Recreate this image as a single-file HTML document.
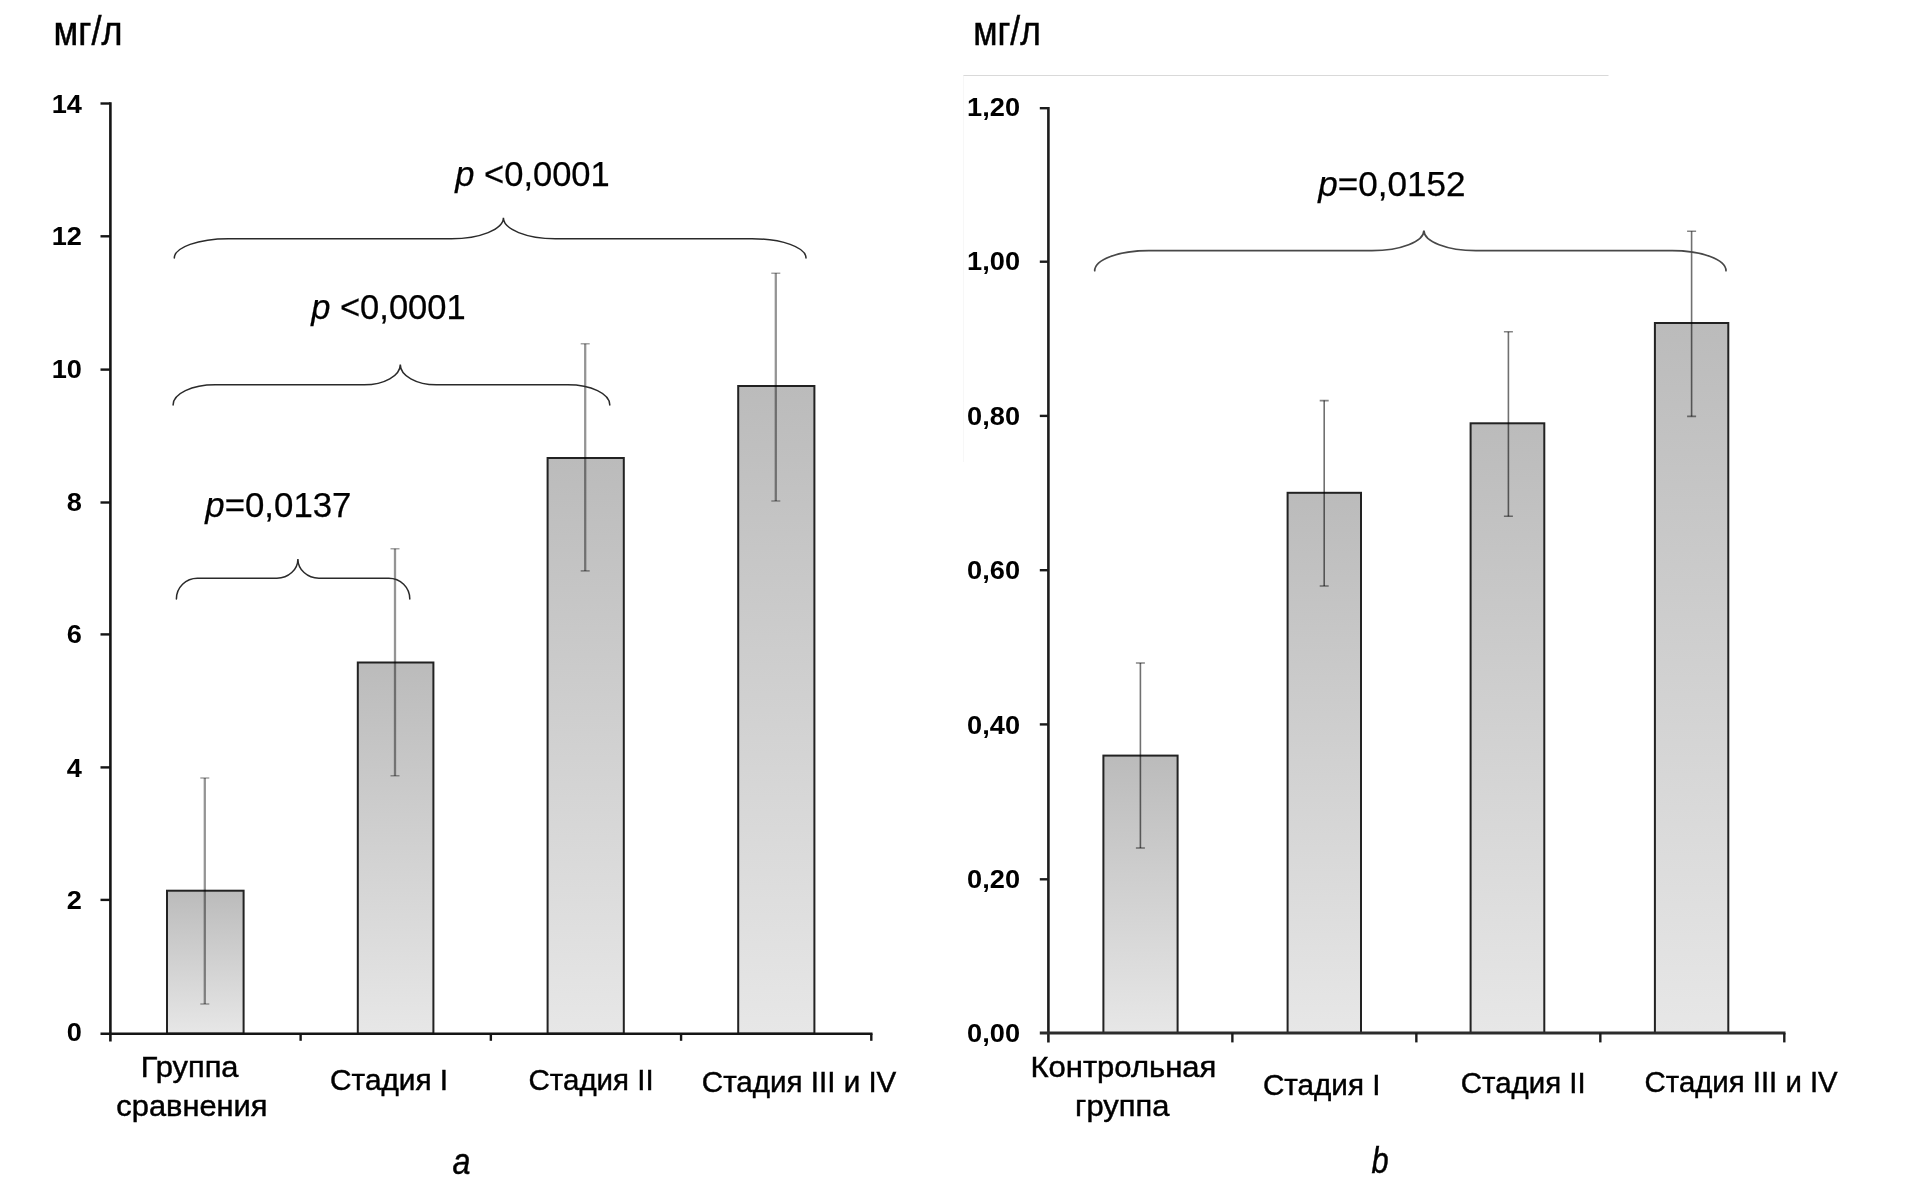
<!DOCTYPE html>
<html lang="ru"><head><meta charset="utf-8"><title>Chart</title>
<style>html,body{margin:0;padding:0;background:#fff}body{width:1908px;height:1203px;overflow:hidden;font-family:"Liberation Sans", sans-serif}svg{display:block;font-family:"Liberation Sans", sans-serif;will-change:transform}text{fill:#000}.xl{stroke:#000;stroke-width:0.45px}.u{stroke:#000;stroke-width:0.5px}.pl{stroke:#000;stroke-width:0.25px}</style></head><body>
<svg width="1908" height="1203" viewBox="0 0 1908 1203">
<defs><linearGradient id="g" x1="0" y1="0" x2="0" y2="1"><stop offset="0" stop-color="#bbbbbb"/><stop offset="1" stop-color="#e7e7e7"/></linearGradient></defs>
<rect width="1908" height="1203" fill="#ffffff"/>
<path d="M963,75.5H1608.5" stroke="#d9d9d9" stroke-width="1" fill="none"/>
<path d="M963.5,75.5V462" stroke="#f7f7f7" stroke-width="1" fill="none"/>
<rect x="167" y="890.7" width="76.6" height="143" fill="url(#g)" stroke="#222" stroke-width="2"/>
<rect x="357.8" y="662.5" width="75.6" height="371.2" fill="url(#g)" stroke="#222" stroke-width="2"/>
<rect x="547.6" y="458" width="76.2" height="575.7" fill="url(#g)" stroke="#222" stroke-width="2"/>
<rect x="738.2" y="386" width="76.2" height="647.7" fill="url(#g)" stroke="#222" stroke-width="2"/>
<path d="M204.8,778V1004" fill="none" stroke="#000" stroke-opacity="0.42" stroke-width="2.3"/>
<path d="M200.3,778H209.3M200.3,1004H209.3" fill="none" stroke="#000" stroke-opacity="0.36" stroke-width="1.6"/>
<path d="M395,548.8V775.8" fill="none" stroke="#000" stroke-opacity="0.42" stroke-width="2.3"/>
<path d="M390.5,548.8H399.5M390.5,775.8H399.5" fill="none" stroke="#000" stroke-opacity="0.36" stroke-width="1.6"/>
<path d="M585.2,343.8V570.9" fill="none" stroke="#000" stroke-opacity="0.42" stroke-width="2.3"/>
<path d="M580.7,343.8H589.7M580.7,570.9H589.7" fill="none" stroke="#000" stroke-opacity="0.36" stroke-width="1.6"/>
<path d="M775.8,273.2V501" fill="none" stroke="#000" stroke-opacity="0.42" stroke-width="2.3"/>
<path d="M771.3,273.2H780.3M771.3,501H780.3" fill="none" stroke="#000" stroke-opacity="0.36" stroke-width="1.6"/>
<path d="M110.4,102.3V1041.6" stroke="#151515" stroke-width="2.6" fill="none"/>
<path d="M100.5,1033.7H872.5" stroke="#151515" stroke-width="2.5" fill="none"/>
<path d="M100.5,899.9H110.4" stroke="#151515" stroke-width="2.4" fill="none"/>
<path d="M100.5,767.4H110.4" stroke="#151515" stroke-width="2.4" fill="none"/>
<path d="M100.5,634.4H110.4" stroke="#151515" stroke-width="2.4" fill="none"/>
<path d="M100.5,502.5H110.4" stroke="#151515" stroke-width="2.4" fill="none"/>
<path d="M100.5,369.6H110.4" stroke="#151515" stroke-width="2.4" fill="none"/>
<path d="M100.5,236.3H110.4" stroke="#151515" stroke-width="2.4" fill="none"/>
<path d="M100.5,103.5H110.4" stroke="#151515" stroke-width="2.4" fill="none"/>
<path d="M300.62,1033.7V1040.8" stroke="#151515" stroke-width="2.4" fill="none"/>
<path d="M490.85,1033.7V1040.8" stroke="#151515" stroke-width="2.4" fill="none"/>
<path d="M681.07,1033.7V1040.8" stroke="#151515" stroke-width="2.4" fill="none"/>
<path d="M871.3,1033.7V1040.8" stroke="#151515" stroke-width="2.4" fill="none"/>
<text x="81.9" y="1041" font-size="25.4" text-anchor="end" font-weight="bold" font-style="normal" textLength="15.11" lengthAdjust="spacingAndGlyphs">0</text>
<text x="81.9" y="909" font-size="25.4" text-anchor="end" font-weight="bold" font-style="normal" textLength="15.11" lengthAdjust="spacingAndGlyphs">2</text>
<text x="81.9" y="777" font-size="25.4" text-anchor="end" font-weight="bold" font-style="normal" textLength="15.11" lengthAdjust="spacingAndGlyphs">4</text>
<text x="81.9" y="643" font-size="25.4" text-anchor="end" font-weight="bold" font-style="normal" textLength="15.11" lengthAdjust="spacingAndGlyphs">6</text>
<text x="81.9" y="511" font-size="25.4" text-anchor="end" font-weight="bold" font-style="normal" textLength="15.11" lengthAdjust="spacingAndGlyphs">8</text>
<text x="81.9" y="378" font-size="25.4" text-anchor="end" font-weight="bold" font-style="normal" textLength="30.22" lengthAdjust="spacingAndGlyphs">10</text>
<text x="81.9" y="245" font-size="25.4" text-anchor="end" font-weight="bold" font-style="normal" textLength="30.22" lengthAdjust="spacingAndGlyphs">12</text>
<text x="81.9" y="113" font-size="25.4" text-anchor="end" font-weight="bold" font-style="normal" textLength="30.22" lengthAdjust="spacingAndGlyphs">14</text>
<path d="M174.3,258 A54 19.3 0 0 1 228.3,238.7 L451.4,238.7 A52 20.9 0 0 0 503.4,217.8 A52 20.9 0 0 0 555.4,238.7 L752,238.7 A54 19.3 0 0 1 806,258" fill="none" stroke="#2a2a2a" stroke-width="1.5" stroke-linecap="round"/>
<path d="M173.1,404.9 A42 20.1 0 0 1 215.1,384.8 L364.3,384.8 A36 20.4 0 0 0 400.3,364.4 A36 20.4 0 0 0 436.3,384.8 L567.8,384.8 A42 20.1 0 0 1 609.8,404.9" fill="none" stroke="#2a2a2a" stroke-width="1.5" stroke-linecap="round"/>
<path d="M176.4,599.1 A21 20.9 0 0 1 197.4,578.2 L276.9,578.2 A21 19.3 0 0 0 297.9,558.9 A21 19.3 0 0 0 318.9,578.2 L388.8,578.2 A21 20.9 0 0 1 409.8,599.1" fill="none" stroke="#2a2a2a" stroke-width="1.5" stroke-linecap="round"/>
<text class="pl" x="455.3" y="186.3" font-size="34.5"><tspan font-style="italic">p</tspan> &lt;0,0001</text>
<text class="pl" x="311.2" y="319.2" font-size="34.5"><tspan font-style="italic">p</tspan> &lt;0,0001</text>
<text class="pl" x="205.3" y="517.3" font-size="34.5" textLength="146.2" lengthAdjust="spacingAndGlyphs"><tspan font-style="italic">p</tspan>=0,0137</text>
<text x="140.74" y="1077.4" font-size="29.5" text-anchor="start" font-weight="normal" font-style="normal" textLength="97.79" lengthAdjust="spacingAndGlyphs" class="xl">Группа</text>
<text x="116.38" y="1115.8" font-size="29.5" text-anchor="start" font-weight="normal" font-style="normal" textLength="151.05" lengthAdjust="spacingAndGlyphs" class="xl">сравнения</text>
<text x="330.14" y="1089.8" font-size="29.5" text-anchor="start" font-weight="normal" font-style="normal" textLength="118.02" lengthAdjust="spacingAndGlyphs" class="xl">Стадия I</text>
<text x="528.52" y="1089.8" font-size="29.5" text-anchor="start" font-weight="normal" font-style="normal" textLength="125.09" lengthAdjust="spacingAndGlyphs" class="xl">Стадия II</text>
<text x="701.8" y="1092.3" font-size="29.5" text-anchor="start" font-weight="normal" font-style="normal" textLength="194.56" lengthAdjust="spacingAndGlyphs" class="xl">Стадия III и IV</text>
<text x="53.5" y="45.2" font-size="40.5" text-anchor="start" font-weight="normal" font-style="normal" textLength="68.9" lengthAdjust="spacingAndGlyphs" class="u">мг/л</text>
<text x="452.62" y="1173.6" font-size="36.5" text-anchor="start" font-weight="normal" font-style="italic" textLength="17.95" lengthAdjust="spacingAndGlyphs" class="xl">a</text>
<rect x="1103.4" y="755.6" width="74.2" height="277.4" fill="url(#g)" stroke="#222222" stroke-width="2.0"/>
<rect x="1287.6" y="492.8" width="73.4" height="540.2" fill="url(#g)" stroke="#222222" stroke-width="2.0"/>
<rect x="1470.6" y="423.3" width="73.7" height="609.7" fill="url(#g)" stroke="#222222" stroke-width="2.0"/>
<rect x="1654.9" y="323" width="73.4" height="710" fill="url(#g)" stroke="#222222" stroke-width="2.0"/>
<path d="M1140.4,663V848" fill="none" stroke="#000" stroke-opacity="0.56" stroke-width="1.6"/>
<path d="M1135.9,663H1144.9M1135.9,848H1144.9" fill="none" stroke="#000" stroke-opacity="0.48" stroke-width="1.6"/>
<path d="M1324.2,400.6V586" fill="none" stroke="#000" stroke-opacity="0.56" stroke-width="1.6"/>
<path d="M1319.7,400.6H1328.7M1319.7,586H1328.7" fill="none" stroke="#000" stroke-opacity="0.48" stroke-width="1.6"/>
<path d="M1508.4,331.8V516.3" fill="none" stroke="#000" stroke-opacity="0.56" stroke-width="1.6"/>
<path d="M1503.9,331.8H1512.9M1503.9,516.3H1512.9" fill="none" stroke="#000" stroke-opacity="0.48" stroke-width="1.6"/>
<path d="M1691.6,231.3V416.4" fill="none" stroke="#000" stroke-opacity="0.56" stroke-width="1.6"/>
<path d="M1687.1,231.3H1696.1M1687.1,416.4H1696.1" fill="none" stroke="#000" stroke-opacity="0.48" stroke-width="1.6"/>
<path d="M1048.4,107V1042.4" stroke="#1c1c1c" stroke-width="2.6" fill="none"/>
<path d="M1039.8,1033.0H1785.5" stroke="#2c2c2c" stroke-width="3" fill="none"/>
<path d="M1039.8,879.3H1048.4" stroke="#1c1c1c" stroke-width="2.4" fill="none"/>
<path d="M1039.8,724.4H1048.4" stroke="#1c1c1c" stroke-width="2.4" fill="none"/>
<path d="M1039.8,570.2H1048.4" stroke="#1c1c1c" stroke-width="2.4" fill="none"/>
<path d="M1039.8,415.9H1048.4" stroke="#1c1c1c" stroke-width="2.4" fill="none"/>
<path d="M1039.8,261.7H1048.4" stroke="#1c1c1c" stroke-width="2.4" fill="none"/>
<path d="M1039.8,108.2H1048.4" stroke="#1c1c1c" stroke-width="2.4" fill="none"/>
<path d="M1232.38,1033.0V1042.4" stroke="#1c1c1c" stroke-width="2.4" fill="none"/>
<path d="M1416.35,1033.0V1042.4" stroke="#1c1c1c" stroke-width="2.4" fill="none"/>
<path d="M1600.33,1033.0V1042.4" stroke="#1c1c1c" stroke-width="2.4" fill="none"/>
<path d="M1784.3,1033.0V1042.4" stroke="#1c1c1c" stroke-width="2.4" fill="none"/>
<text x="1020" y="1042" font-size="25.4" text-anchor="end" font-weight="bold" font-style="normal" textLength="52.89" lengthAdjust="spacingAndGlyphs">0,00</text>
<text x="1020" y="888" font-size="25.4" text-anchor="end" font-weight="bold" font-style="normal" textLength="52.89" lengthAdjust="spacingAndGlyphs">0,20</text>
<text x="1020" y="734" font-size="25.4" text-anchor="end" font-weight="bold" font-style="normal" textLength="52.89" lengthAdjust="spacingAndGlyphs">0,40</text>
<text x="1020" y="579" font-size="25.4" text-anchor="end" font-weight="bold" font-style="normal" textLength="52.89" lengthAdjust="spacingAndGlyphs">0,60</text>
<text x="1020" y="425" font-size="25.4" text-anchor="end" font-weight="bold" font-style="normal" textLength="52.89" lengthAdjust="spacingAndGlyphs">0,80</text>
<text x="1020" y="270" font-size="25.4" text-anchor="end" font-weight="bold" font-style="normal" textLength="52.89" lengthAdjust="spacingAndGlyphs">1,00</text>
<text x="1020" y="116" font-size="25.4" text-anchor="end" font-weight="bold" font-style="normal" textLength="52.89" lengthAdjust="spacingAndGlyphs">1,20</text>
<path d="M1094.7,270.7 A54 20.1 0 0 1 1148.7,250.6 L1371.9,250.6 A52 20.2 0 0 0 1423.9,230.4 A52 20.2 0 0 0 1475.9,250.6 L1672,250.6 A54 20.1 0 0 1 1726,270.7" fill="none" stroke="#484848" stroke-width="1.7" stroke-linecap="round"/>
<text class="pl" x="1318.2" y="196" font-size="34.5" textLength="147.2" lengthAdjust="spacingAndGlyphs"><tspan font-style="italic">p</tspan>=0,0152</text>
<text x="1030.43" y="1077.4" font-size="29.5" text-anchor="start" font-weight="normal" font-style="normal" textLength="186.01" lengthAdjust="spacingAndGlyphs" class="xl">Контрольная</text>
<text x="1075.11" y="1115.8" font-size="29.5" text-anchor="start" font-weight="normal" font-style="normal" textLength="94.22" lengthAdjust="spacingAndGlyphs" class="xl">группа</text>
<text x="1262.96" y="1095.4" font-size="29.5" text-anchor="start" font-weight="normal" font-style="normal" textLength="117.46" lengthAdjust="spacingAndGlyphs" class="xl">Стадия I</text>
<text x="1460.8" y="1093.4" font-size="29.5" text-anchor="start" font-weight="normal" font-style="normal" textLength="124.82" lengthAdjust="spacingAndGlyphs" class="xl">Стадия II</text>
<text x="1644.61" y="1092.2" font-size="29.5" text-anchor="start" font-weight="normal" font-style="normal" textLength="193.1" lengthAdjust="spacingAndGlyphs" class="xl">Стадия III и IV</text>
<text x="973.14" y="45.2" font-size="40.5" text-anchor="start" font-weight="normal" font-style="normal" textLength="67.62" lengthAdjust="spacingAndGlyphs" class="u">мг/л</text>
<text x="1371.44" y="1173" font-size="37.5" text-anchor="start" font-weight="normal" font-style="italic" textLength="17.09" lengthAdjust="spacingAndGlyphs" class="xl">b</text>
</svg></body></html>
